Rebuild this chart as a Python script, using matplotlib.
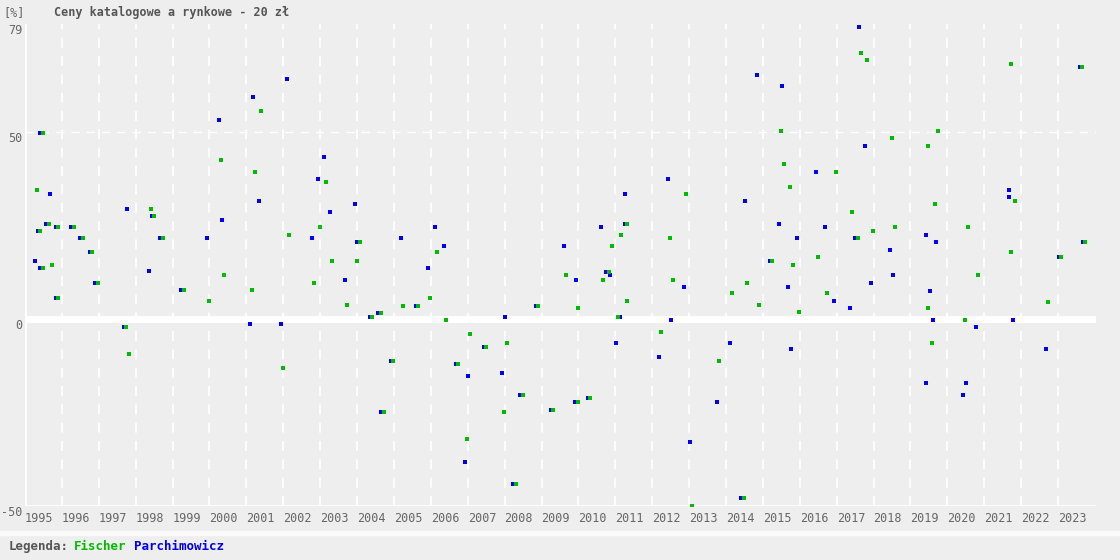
import matplotlib.pyplot as plt
from matplotlib.patches import Rectangle

# Fischer (green) catalogue vs market price deviation [%]
fischer_x = [1995.32, 1995.40, 1995.48, 1995.48, 1995.65, 1995.73, 1995.89, 1995.89, 1996.32, 1996.57,
             1996.81, 1996.97, 1997.73, 1997.82, 1998.41, 1998.49, 1998.74, 1999.31, 1999.98, 2000.31,
             2000.39, 2001.15, 2001.23, 2001.39, 2001.99, 2002.15, 2002.83, 2002.99, 2003.15, 2003.31,
             2003.72, 2003.99, 2004.08, 2004.40, 2004.65, 2004.97, 2004.73, 2005.24, 2005.65, 2005.97,
             2006.16, 2006.41, 2006.73, 2006.98, 2007.06, 2007.49, 2007.98, 2008.06, 2008.31, 2008.50,
             2008.90, 2009.31, 2009.66, 2009.99, 2009.99, 2010.31, 2010.66, 2010.83, 2010.91, 2011.07,
             2011.15, 2011.31, 2011.31, 2012.24, 2012.48, 2012.56, 2012.91, 2013.08, 2013.81, 2014.16,
             2014.49, 2014.57, 2014.89, 2015.24, 2015.49, 2015.57, 2015.73, 2015.81, 2015.98, 2016.49,
             2016.74, 2016.98, 2017.41, 2017.58, 2017.66, 2017.82, 2017.98, 2018.50, 2018.58, 2019.47,
             2019.47, 2019.58, 2019.66, 2019.74, 2020.48, 2020.56, 2020.83, 2021.72, 2021.72, 2021.83,
             2022.73, 2023.08, 2023.65, 2023.73]
fischer_y = [34.7, 23.7, 49.7, 13.8, 25.6, 14.6, 24.8, 5.8, 24.8, 21.6,
             17.9, 9.8, -2.2, -9.2, 29.6, 27.7, 21.6, 7.7, 4.8, 42.7,
             11.7, 7.7, 39.4, 55.6, -13.2, 22.6, 9.8, 24.8, 36.6, 15.6,
             3.7, 15.6, 20.7, 0.7, 1.7, -11.1, -24.9, 3.6, 3.6, 5.8,
             17.9, -0.1, -12.1, -32.2, -4.1, -7.4, -24.9, -6.3, -44.0, -20.2,
             3.6, -24.2, 11.7, -22.1, 2.9, -21.2, 10.6, 12.7, 19.7, 0.7,
             22.6, 25.6, 4.8, -3.3, 21.6, 10.6, 33.6, -50.0, -11.1, 6.9,
             -47.9, 9.8, 3.7, 15.6, 50.4, 41.5, 35.4, 14.6, 1.8, 16.7,
             6.9, 39.4, 28.6, 21.6, 71.3, 69.4, 23.7, 48.6, 24.7, 46.4,
             2.9, -6.3, 30.7, 50.4, -0.1, 24.7, 11.7, 17.9, 68.4, 31.7,
             4.7, 16.7, 67.5, 20.7]

# Parchimowicz (blue)
parch_x = [1995.28, 1995.42, 1995.35, 1995.42, 1995.58, 1995.67, 1995.83, 1995.83, 1996.26, 1996.50,
           1996.75, 1996.91, 1997.67, 1997.76, 1998.36, 1998.43, 1998.67, 1999.24, 1999.93, 2000.26,
           2000.34, 2001.10, 2001.18, 2001.34, 2001.94, 2002.10, 2002.78, 2002.94, 2003.10, 2003.26,
           2003.67, 2003.94, 2004.01, 2004.34, 2004.58, 2004.91, 2005.19, 2004.66, 2005.59, 2005.92,
           2006.11, 2006.35, 2006.67, 2006.92, 2007.00, 2007.43, 2007.93, 2008.01, 2008.24, 2008.43,
           2008.84, 2009.25, 2009.61, 2009.92, 2009.93, 2010.25, 2010.61, 2010.76, 2010.85, 2011.02,
           2011.12, 2011.25, 2011.26, 2012.18, 2012.43, 2012.51, 2012.86, 2013.02, 2013.75, 2014.11,
           2014.42, 2014.51, 2014.84, 2015.19, 2015.43, 2015.52, 2015.68, 2015.76, 2015.92, 2016.44,
           2016.68, 2016.93, 2017.36, 2017.51, 2017.60, 2017.77, 2017.93, 2018.44, 2018.52, 2019.42,
           2019.42, 2019.53, 2019.61, 2019.69, 2020.42, 2020.50, 2020.77, 2021.67, 2021.67, 2021.78,
           2022.67, 2023.02, 2023.59, 2023.67]
parch_y = [15.6, 49.7, 23.7, 13.8, 25.6, 33.6, 24.8, 5.8, 24.8, 21.6,
           17.9, 9.8, -2.2, 29.6, 12.8, 27.7, 21.6, 7.7, 21.6, 53.4,
           26.6, -1.2, 59.5, 31.7, -1.2, 64.4, 21.6, 37.6, 43.5, 28.6,
           10.6, 30.7, 20.7, 0.7, 1.7, -11.1, 21.6, -24.9, 3.6, 13.8,
           24.7, 19.7, -12.1, -38.1, -15.1, -7.4, -14.3, 0.7, -44.0, -20.2,
           3.6, -24.2, 19.7, -22.1, 10.6, -21.2, 24.7, 12.7, 11.7, -6.3,
           0.7, 25.6, 33.6, -10.2, 37.6, -0.1, 8.7, -33.0, -22.1, -6.3,
           -47.9, 31.7, 65.4, 15.6, 25.6, 62.5, 8.7, -8.1, 21.6, 39.4,
           24.7, 4.8, 2.9, 21.6, 78.2, 46.4, 9.8, 18.6, 11.7, 22.6,
           -17.2, 7.6, -0.1, 20.7, -20.2, -17.2, -2.2, 34.7, 32.6, -0.1,
           -8.1, 16.7, 67.5, 20.7]

years = list(range(1995, 2024))
y_ticks = [-50, 0, 50, 79]

bg = '#eeeeee'
txt = '#666666'
font = 'DejaVu Sans Mono'


def main():
    fig = plt.figure(figsize=(11.2, 5.6), dpi=100, facecolor=bg)
    ax = fig.add_axes([25 / 1120, 1 - 506 / 560, (1096 - 25) / 1120, (506 - 24) / 560])
    ax.set_facecolor(bg)
    ax.set_xlim(1995, 2024.03)
    ax.set_ylim(-50, 79)

    # grid
    for yr in years[1:]:
        ax.axvline(yr, color='white', lw=1.2, ls=(0, (6, 5)), zorder=1)
    ax.axhline(50, color='white', lw=1, ls=(0, (6, 5)), zorder=1)
    ax.axhline(0, color='white', lw=5, zorder=1)
    ax.axhline(-50, color='white', lw=2, zorder=1)
    ax.axvline(1995, color='white', lw=2, zorder=1)

    ax.scatter(parch_x, parch_y, marker='s', s=7, color='#0000ee', lw=0, zorder=3)
    ax.scatter(fischer_x, fischer_y, marker='s', s=7, color='#00bb00', lw=0, zorder=3)

    for s in ax.spines.values():
        s.set_visible(False)
    ax.set_xticks(years)
    ax.set_xticklabels([str(y) for y in years], ha='left', fontsize=8.5, color=txt, family=font)
    ax.set_yticks(y_ticks)
    ax.set_yticklabels([str(v) for v in y_ticks], fontsize=8.5, color=txt, family=font, va='top')
    ax.tick_params(length=0, pad=4)
    ax.tick_params(axis='y', pad=2)

    fig.text(0.003, 0.978, '[%]', fontsize=8.5, color=txt, family=font, va='center')
    fig.text(0.048, 0.978, 'Ceny katalogowe a rynkowe - 20 zł', fontsize=8.5, color='#555555',
             family=font, weight='bold', va='center')

    fig.patches.append(Rectangle((0, 1 - 535 / 560), 1, 4 / 560, transform=fig.transFigure,
                                 color='#fafafa', zorder=0))

    fig.text(0.008, 0.024, 'Legenda:', fontsize=9, color='#555555', family=font, weight='bold', va='center')
    fig.text(0.066, 0.024, 'Fischer', fontsize=9, color='#00bb00', family=font, weight='bold', va='center')
    fig.text(0.12, 0.024, 'Parchimowicz', fontsize=9, color='#0000ee', family=font, weight='bold', va='center')

    fig.savefig('out.png', dpi=100, facecolor=bg)


if __name__ == '__main__':
    main()
